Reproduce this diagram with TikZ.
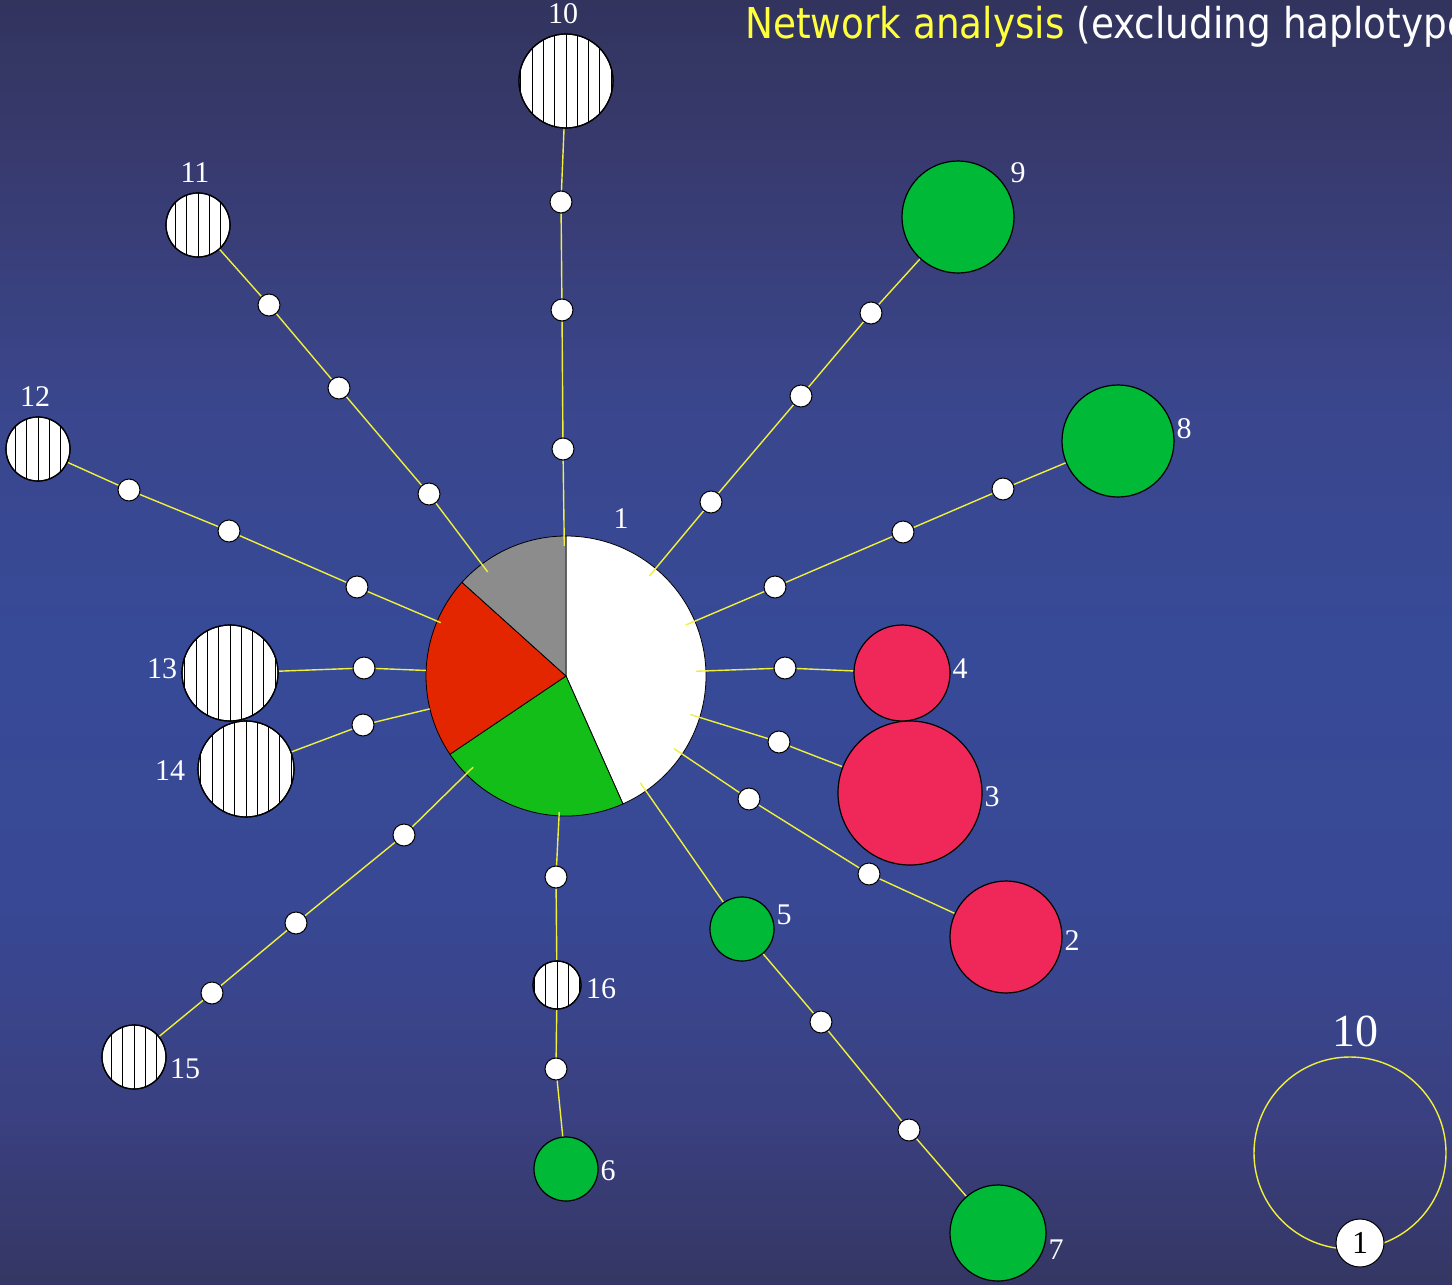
\documentclass[tikz,border=0pt]{standalone}
\usepackage{fontspec}
\setmainfont{Liberation Serif}
\newfontfamily\titlefont[FakeStretch=0.88]{DejaVu Sans}
\usetikzlibrary{calc}

\definecolor{bgA}{RGB}{50,52,94}
\definecolor{bgB}{RGB}{56,58,110}
\definecolor{bgC}{RGB}{58,70,140}
\definecolor{bgD}{RGB}{55,74,152}
\definecolor{bgE}{RGB}{56,72,148}
\definecolor{bgF}{RGB}{58,64,128}
\definecolor{bgG}{RGB}{52,54,98}
\definecolor{linkyellow}{RGB}{240,240,60}
\definecolor{titleyellow}{RGB}{255,255,60}
\definecolor{hapgreen}{RGB}{0,185,55}
\definecolor{piegreen}{RGB}{20,190,25}
\definecolor{piered}{RGB}{228,38,0}
\definecolor{piegray}{RGB}{140,140,140}
\definecolor{happink}{RGB}{240,40,90}

\pgfdeclarelayer{bg}
\pgfdeclarelayer{pie}
\pgfdeclarelayer{links}
\pgfsetlayers{bg,pie,links,main}

\tikzset{
  hapnode/.style={circle, draw=black, line width=1.2pt, inner sep=0pt},
  mv/.style={circle, draw=black, fill=white, line width=1pt, inner sep=0pt, minimum size=22pt},
  link/.style={draw=linkyellow, line width=1.4pt},
  hatch/.style={draw=black, line width=1pt},
  lab/.style={text=white, font=\fontsize{30}{30}\selectfont, inner sep=0pt},
}

% haplotype circle with vertical hatching: name, x, y, radius (pt)
\newcommand\hatchhap[4]{%
  \node[hapnode, fill=white, minimum size={2*#4 pt}] (#1) at (#2,#3) {};
  \begin{scope}
    \clip (#1.center) circle[radius=#4pt];
    \foreach \k in {-6,...,6}
      \draw[hatch] ($(#1.center)+(\k*11.3pt,-70pt)$) -- ++(0,140pt);
  \end{scope}
  \draw[black, line width=1.2pt] (#1.center) circle[radius=#4pt];
}

\begin{document}
\begin{tikzpicture}[x=1pt, y=-1pt]
\useasboundingbox (0,0) rectangle (1452,1285);

% vertical background gradient, built from thin bands
\begin{pgfonlayer}{bg}
  \foreach \ya/\yb/\ca/\cb in {0/150/bgA/bgB, 150/400/bgB/bgC, 400/640/bgC/bgD,
      640/900/bgD/bgE, 900/1120/bgE/bgF, 1120/1285/bgF/bgG} {
    \pgfmathtruncatemacro\n{(\yb-\ya)/5}
    \foreach \k in {0,...,\n} {
      \pgfmathsetmacro\p{100-100*\k/\n}
      \pgfmathsetmacro\yy{\ya+5*\k}
      \fill[\ca!\p!\cb] (0,\yy) rectangle (1452,\yy+5.6);
    }
  }
\end{pgfonlayer}

% title
\begin{scope}
  \clip (0,0) rectangle (1452,1285);
  \node[anchor=base west, inner sep=0pt, font=\titlefont\fontsize{42.5}{42.5}\selectfont]
    (title) at (745,38) {\textcolor{titleyellow}{Network analysis} \textcolor{white}{(excluding haplotype}};
\end{scope}

% central haplotype 1 as a pie
\node[circle, inner sep=0pt, minimum size=280pt] (c1) at (566,676) {};
\begin{pgfonlayer}{pie}
  \filldraw[fill=white, draw=black, line width=0.8pt] (c1.center) -- ++(90:140pt) arc[start angle=90, end angle=-66, radius=140pt] -- cycle;
  \filldraw[fill=piegreen, draw=black, line width=0.8pt] (c1.center) -- ++(-66:140pt) arc[start angle=-66, end angle=-146, radius=140pt] -- cycle;
  \filldraw[fill=piered, draw=black, line width=0.8pt] (c1.center) -- ++(-146:140pt) arc[start angle=-146, end angle=-222, radius=140pt] -- cycle;
  \filldraw[fill=piegray, draw=black, line width=0.8pt] (c1.center) -- ++(138:140pt) arc[start angle=138, end angle=90, radius=140pt] -- cycle;
\end{pgfonlayer}
\node[lab] (l1) at (621,519) {1};

% coloured haplotypes
\node[hapnode, fill=happink, minimum size=112pt] (h2) at (1006,937) {};
\node[hapnode, fill=happink, minimum size=144pt] (h3) at (910,793) {};
\node[hapnode, fill=happink, minimum size=96pt] (h4) at (902,673) {};
\node[hapnode, fill=hapgreen, minimum size=64pt] (h5) at (742,929) {};
\node[hapnode, fill=hapgreen, minimum size=64pt] (h6) at (566,1169) {};
\node[hapnode, fill=hapgreen, minimum size=96pt] (h7) at (998,1233) {};
\node[hapnode, fill=hapgreen, minimum size=112pt] (h8) at (1118,441) {};
\node[hapnode, fill=hapgreen, minimum size=112pt] (h9) at (958,217) {};

% hatched haplotypes
\hatchhap{h10}{566}{81}{47}
\hatchhap{h11}{198}{225}{32}
\hatchhap{h12}{38}{449}{32}
\hatchhap{h13}{230}{673}{48}
\hatchhap{h14}{246}{769}{48}
\hatchhap{h15}{134}{1057}{32}
\hatchhap{h16}{557}{985}{24}

% labels
\node[lab] (l2) at (1072,941) {2};
\node[lab] (l3) at (992,797) {3};
\node[lab] (l4) at (960,669) {4};
\node[lab] (l5) at (784,915) {5};
\node[lab] (l6) at (608,1171) {6};
\node[lab] (l7) at (1056,1250) {7};
\node[lab] (l8) at (1184,429) {8};
\node[lab] (l9) at (1018,173) {9};
\node[lab] (l10) at (563,14) {10};
\node[lab] (l11) at (195,173) {11};
\node[lab] (l12) at (35,397) {12};
\node[lab] (l13) at (162,669) {13};
\node[lab] (l14) at (170,771) {14};
\node[lab] (l15) at (185,1069) {15};
\node[lab] (l16) at (601,989) {16};

% median vectors
\node[mv] (m10a) at (563,449) {};
\node[mv] (m10b) at (562,310) {};
\node[mv] (m10c) at (561,202) {};
\node[mv] (m11a) at (429,494) {};
\node[mv] (m11b) at (339,388) {};
\node[mv] (m11c) at (269,305) {};
\node[mv] (m12a) at (357,587) {};
\node[mv] (m12b) at (229,531) {};
\node[mv] (m12c) at (129,490) {};
\node[mv] (m13a) at (364,668) {};
\node[mv] (m14a) at (363,725) {};
\node[mv] (m15a) at (404,835) {};
\node[mv] (m15b) at (296,923) {};
\node[mv] (m15c) at (212,993) {};
\node[mv] (m16a) at (556,877) {};
\node[mv] (m6a) at (556,1069) {};
\node[mv] (m7a) at (821,1022) {};
\node[mv] (m7b) at (909,1130) {};
\node[mv] (m2a) at (749,799) {};
\node[mv] (m2b) at (869,874) {};
\node[mv] (m3a) at (779,742) {};
\node[mv] (m4a) at (785,668) {};
\node[mv] (m8a) at (775,587) {};
\node[mv] (m8b) at (903,532) {};
\node[mv] (m8c) at (1003,489) {};
\node[mv] (m9a) at (711,502) {};
\node[mv] (m9b) at (801,396) {};
\node[mv] (m9c) at (871,313) {};

% connections
\begin{pgfonlayer}{links}
  \draw[link, shorten <=-10pt] (c1) -- (m10a);
  \draw[link] (m10a) -- (m10b) -- (m10c) -- (h10);
  \draw[link, shorten <=-10pt] (c1) -- (m11a);
  \draw[link] (m11a) -- (m11b) -- (m11c) -- (h11);
  \draw[link, shorten <=-4pt] (c1) -- (m12a);
  \draw[link] (m12a) -- (m12b) -- (m12c) -- (h12);
  \draw[link, shorten <=-4pt] (c1) -- (m13a) -- (h13);
  \draw[link, shorten <=-4pt] (c1) -- (m14a) -- (h14);
  \draw[link, shorten <=-10pt] (c1) -- (m15a);
  \draw[link] (m15a) -- (m15b) -- (m15c) -- (h15);
  \draw[link, shorten <=-4pt] (c1) -- (m16a);
  \draw[link] (m16a) -- (h16) -- (m6a) -- (h6);
  \draw[link, shorten <=-10pt] (c1) -- (h5);
  \draw[link] (h5) -- (m7a) -- (m7b) -- (h7);
  \draw[link, shorten <=-10pt] (c1) -- (m2a);
  \draw[link] (m2a) -- (m2b) -- (h2);
  \draw[link, shorten <=-10pt] (c1) -- (m3a);
  \draw[link] (m3a) -- (h3);
  \draw[link, shorten <=-10pt] (c1) -- (m4a);
  \draw[link] (m4a) -- (h4);
  \draw[link, shorten <=-10pt] (c1) -- (m8a);
  \draw[link] (m8a) -- (m8b) -- (m8c) -- (h8);
  \draw[link, shorten <=-10pt] (c1) -- (m9a);
  \draw[link] (m9a) -- (m9b) -- (m9c) -- (h9);
\end{pgfonlayer}

% scale legend
\node[circle, draw=linkyellow, line width=1.4pt, inner sep=0pt, minimum size=192pt] (scale10) at (1350,1153) {};
\node[text=white, font=\fontsize{46}{46}\selectfont, inner sep=0pt] (scalelab) at (1355,1031) {10};
\node[mv, minimum size=48pt, font=\fontsize{32}{32}\selectfont] (scale1) at (1360,1243) {1};
\end{tikzpicture}
\end{document}
